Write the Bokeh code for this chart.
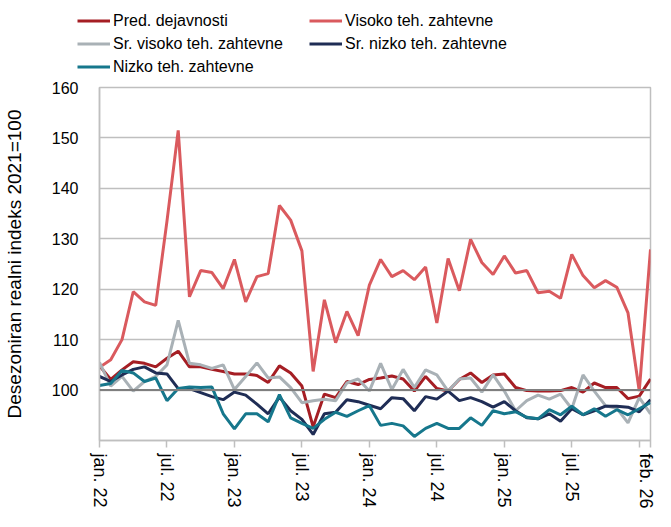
from bokeh.plotting import figure
from bokeh.layouts import column
from bokeh.models import (Range1d, FixedTicker, Span, Legend, LegendItem)
from bokeh.embed import file_html
from bokeh.resources import INLINE

months = list(range(50))
tick_pos = [0, 6, 12, 18, 24, 30, 36, 42, 48, 49]
tick_labels = ["jan. 22", "jul. 22", "jan. 23", "jul. 23", "jan. 24", "jul. 24",
               "jan. 25", "jul. 25", "", "feb. 26"]

pred = [104.8, 102.1, 104.0, 105.6, 105.3, 104.6, 106.3, 107.7, 104.6, 104.6,
        104.1, 103.7, 103.2, 103.2, 102.9, 101.5, 104.8, 103.4, 100.8, 92.7,
        99.2, 98.5, 101.7, 101.1, 102.1, 102.4, 102.8, 102.2, 99.8, 102.7,
        100.3, 99.8, 102.1, 103.4, 101.5, 103.0, 103.2, 100.5, 99.9, 99.8,
        99.8, 99.9, 100.5, 99.6, 101.4, 100.5, 100.5, 98.3, 98.8, 102.2]
visoko = [104.5, 106.0, 110.0, 119.5, 117.5, 116.8, 133.5, 151.5, 118.5, 123.7,
          123.3, 120.1, 125.9, 117.5, 122.5, 123.1, 136.6, 133.7, 127.6, 103.7,
          117.9, 109.4, 115.6, 110.8, 120.8, 125.9, 122.5, 123.7, 121.9, 124.4,
          113.3, 126.1, 119.7, 129.9, 125.3, 122.9, 126.6, 123.2, 123.7, 119.3,
          119.6, 118.2, 126.9, 122.7, 120.3, 121.7, 120.4, 115.3, 99.8, 127.9]
sr_visoko = [105.5, 100.8, 102.7, 99.8, 101.7, 102.7, 105.0, 113.8, 105.3, 105.0,
             104.3, 105.0, 100.1, 102.7, 105.4, 102.4, 102.6, 100.5, 97.5, 97.9,
             98.2, 97.9, 101.4, 102.2, 99.8, 105.3, 100.1, 104.1, 100.5, 104.0,
             103.0, 99.8, 102.2, 102.4, 99.6, 103.0, 99.8, 95.9, 97.9, 99.0,
             98.2, 99.2, 96.3, 103.0, 99.8, 96.9, 96.4, 93.5, 98.5, 95.3]
sr_nizko = [102.7, 101.7, 103.0, 104.1, 104.6, 103.4, 103.2, 100.3, 100.3, 99.5,
            98.7, 98.1, 99.6, 99.0, 97.2, 95.3, 98.6, 95.9, 94.2, 91.2,
            95.3, 95.6, 98.1, 97.7, 97.0, 96.3, 98.5, 98.3, 95.9, 98.7,
            98.2, 99.8, 97.9, 98.5, 97.7, 96.6, 97.7, 95.9, 94.5, 94.3,
            95.3, 93.8, 96.3, 95.1, 95.9, 96.8, 96.8, 96.6, 95.7, 98.1]
nizko = [100.9, 101.3, 103.9, 103.4, 101.7, 102.4, 97.9, 100.3, 100.6, 100.5,
         100.6, 95.3, 92.3, 95.3, 95.3, 93.7, 99.1, 94.5, 93.4, 92.4,
         94.2, 95.6, 94.8, 95.9, 96.9, 93.0, 93.4, 92.9, 90.8, 92.4,
         93.4, 92.4, 92.4, 94.5, 93.0, 95.9, 95.3, 95.7, 94.6, 94.3,
         96.1, 95.1, 96.8, 95.1, 96.3, 94.8, 96.1, 95.1, 96.3, 97.5]

series = [
    ("Pred. dejavnosti", pred, "#A51E24"),
    ("Visoko teh. zahtevne", visoko, "#DA5A5E"),
    ("Sr. visoko teh. zahtevne", sr_visoko, "#A9B1B6"),
    ("Sr. nizko teh. zahtevne", sr_nizko, "#1F2D55"),
    ("Nizko teh. zahtevne", nizko, "#16778C"),
]

W = 655
LEG_H = 76
MAIN_H = 511 - LEG_H

# ---- main chart ----
p = figure(width=W, height=MAIN_H, output_backend="svg", toolbar_location=None,
           x_range=Range1d(0, 49), y_range=Range1d(90, 160),
           min_border_left=98, min_border_right=5, min_border_top=11,
           min_border_bottom=68)
p.frame_align = False
p.outline_line_color = "#BFBFBF"
p.outline_line_width = 1.5

p.xgrid.visible = False
p.ygrid.grid_line_color = "#BFBFBF"
p.ygrid.grid_line_width = 1.5
p.yaxis.ticker = FixedTicker(ticks=[100, 110, 120, 130, 140, 150, 160])
p.xaxis.ticker = FixedTicker(ticks=tick_pos)
p.xaxis.major_label_overrides = {t: l for t, l in zip(tick_pos, tick_labels)}
p.xaxis.major_label_orientation = "vertical"
p.xaxis.minor_tick_line_color = None
p.yaxis.minor_tick_line_color = None
p.xaxis.major_tick_out = 7
p.xaxis.major_tick_in = 0
p.yaxis.major_tick_out = 0
p.yaxis.major_tick_in = 0
for ax in (p.xaxis, p.yaxis):
    ax.axis_line_color = "#BFBFBF"
    ax.axis_line_width = 1.5
    ax.major_tick_line_color = "#BFBFBF"
    ax.major_tick_line_width = 1.5
    ax.major_label_text_color = "#000000"
p.xaxis.major_label_text_font = "Liberation Sans"
p.xaxis.major_label_text_font_size = "18px"
p.yaxis.major_label_text_font = "Liberation Sans"
p.yaxis.major_label_text_font_size = "16px"
p.xaxis.major_label_standoff = 6
p.yaxis.major_label_standoff = 21
p.yaxis.axis_label = "Desezoniran realni indeks 2021=100"
p.yaxis.axis_label_text_font = "Liberation Sans"
p.yaxis.axis_label_text_font_size = "19px"
p.yaxis.axis_label_text_font_style = "normal"
p.yaxis.axis_label_text_color = "#000000"
p.yaxis.axis_label_standoff = 24

p.add_layout(Span(location=100, dimension="width", line_color="#7F7F7F", line_width=2))

for name, vals, col in series:
    p.line(months, vals, line_color=col, line_width=3)

# ---- legend strip (same series, drawn out of view; only the legend shows) ----
lg = figure(width=W, height=LEG_H, output_backend="svg", toolbar_location=None,
            x_range=Range1d(1000, 1001), y_range=Range1d(1000, 1001),
            min_border=0, x_axis_type=None, y_axis_type=None)
lg.frame_align = False
lg.outline_line_color = None
lg.xgrid.visible = False
lg.ygrid.visible = False
items = []
for name, vals, col in series:
    r = lg.line(months, vals, line_color=col, line_width=3)
    items.append(LegendItem(label=name, renderers=[r]))

legend = Legend(items=items, orientation="horizontal", ncols=2,
                location=(77, 0), padding=0, margin=0, spacing=4,
                glyph_width=33, glyph_height=19, label_height=19,
                label_width=192, label_standoff=3,
                label_text_font="Liberation Sans",
                label_text_font_size="16px", label_text_color="#000000",
                border_line_alpha=0, background_fill_alpha=0)
lg.add_layout(legend, "center")

layout = column(lg, p, spacing=0)
open("out.html", "w").write(file_html(layout, INLINE))
